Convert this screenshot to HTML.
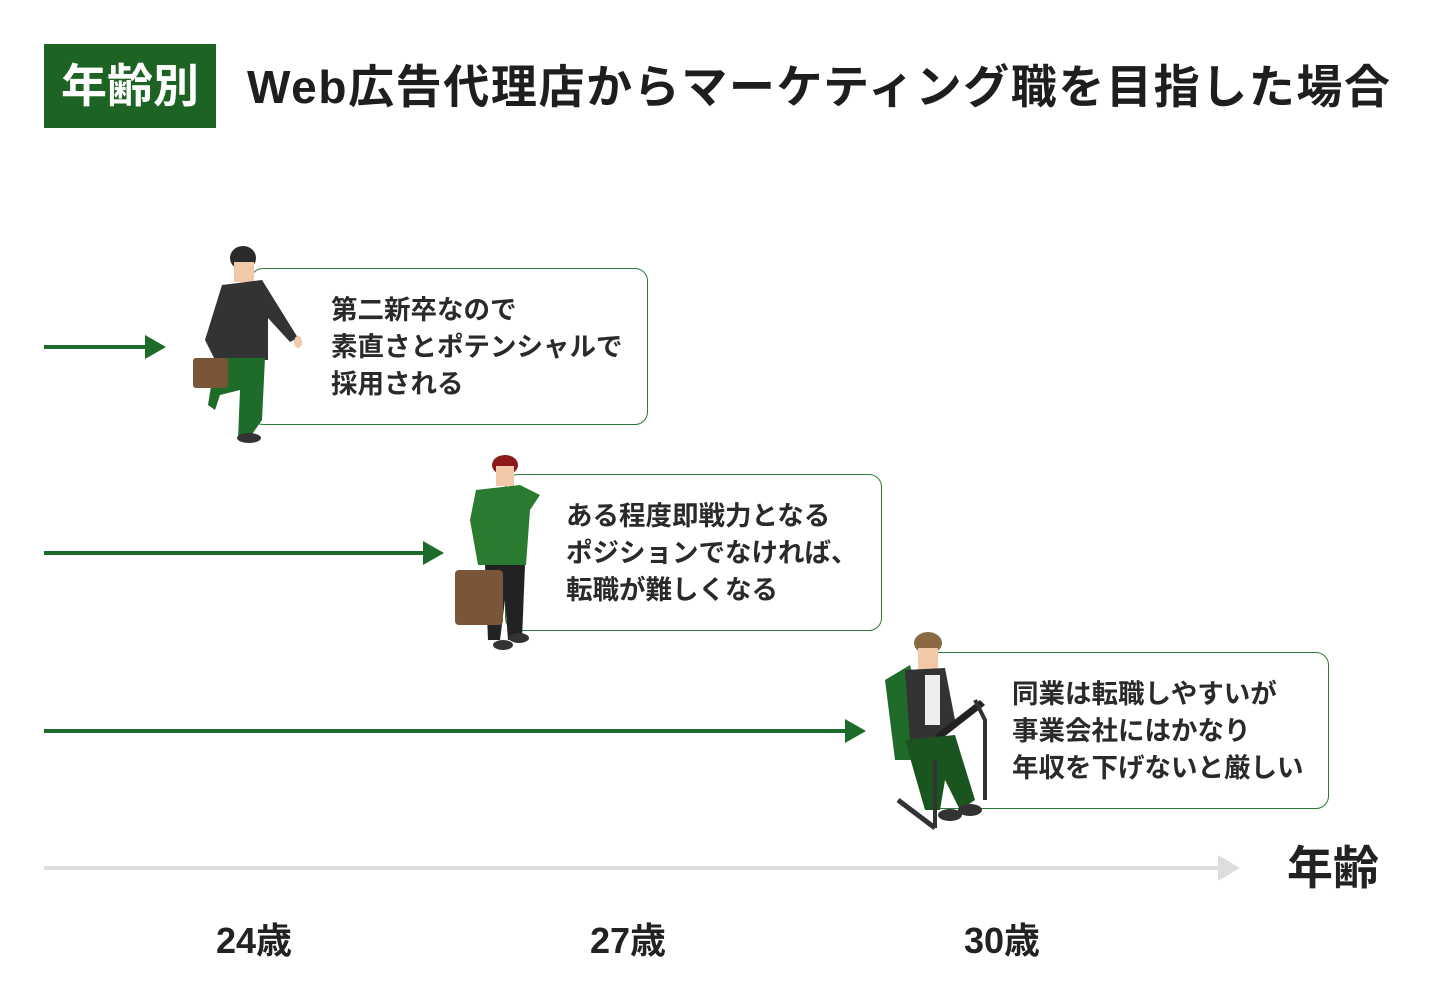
<!DOCTYPE html>
<html><head><meta charset="utf-8"><style>
body{margin:0;width:1440px;height:1008px;background:#fff;position:relative;overflow:hidden;font-family:"Liberation Sans","Noto Sans CJK JP",sans-serif;color:#222;font-weight:bold}
.a{position:absolute}
.box{position:absolute;border:1.5px solid #2c7a36;border-radius:13px;background:#fff}
.txt{position:absolute;font-size:26.5px;line-height:37px;white-space:nowrap;color:#2a2a2a}
.lbl{position:absolute;font-size:36px;white-space:nowrap;transform:translateX(-50%)}
</style></head><body>
<div class="a" style="left:44px;top:44px;width:172px;height:84px;background:#1d6324;color:#fff;font-size:46px;line-height:84px;text-align:center">年齢別</div>
<div class="a" style="left:247px;top:56px;font-size:46px;line-height:62px;white-space:nowrap;letter-spacing:1.6px;color:#1e1e1e">Web広告代理店からマーケティング職を目指した場合</div>

<div class="box" style="left:250px;top:268px;width:396px;height:155px"></div>
<div class="txt" style="left:331px;top:292px">第二新卒なので<br>素直さとポテンシャルで<br>採用される</div>
<div class="box" style="left:505px;top:474px;width:375px;height:155px"></div>
<div class="txt" style="left:566px;top:498px">ある程度即戦力となる<br>ポジションでなければ、<br>転職が難しくなる</div>
<div class="box" style="left:925px;top:652px;width:402px;height:155px"></div>
<div class="txt" style="left:1012px;top:676px">同業は転職しやすいが<br>事業会社にはかなり<br>年収を下げないと厳しい</div>

<svg class="a" style="left:0;top:0" width="1440" height="1008">
<g fill="#1d6b2a" stroke="#1d6b2a">
<line x1="44" y1="347" x2="148" y2="347" stroke-width="4"/><polygon points="145,335 166,347 145,359" stroke="none"/>
<line x1="44" y1="553" x2="426" y2="553" stroke-width="4"/><polygon points="423,541 444,553 423,565" stroke="none"/>
<line x1="44" y1="731" x2="848" y2="731" stroke-width="4"/><polygon points="845,719 866,731 845,743" stroke="none"/>
</g>
<line x1="44" y1="868" x2="1220" y2="868" stroke="#ddd" stroke-width="4"/><polygon points="1218,855 1240,868 1218,881" fill="#ddd"/>
<g>
<ellipse cx="243" cy="258" rx="13" ry="12" fill="#2b2b2b"/>
<rect x="234" y="262" width="20" height="20" fill="#f2c9a8"/>
<path d="M222 285 L262 280 L298 338 L290 342 L268 318 L268 360 L215 360 L205 340 Z" fill="#333"/>
<path d="M225 358 L265 358 L262 420 L248 440 L238 440 L240 390 L220 395 L215 410 L208 405 L212 380 Z" fill="#1e6b2a"/>
<rect x="193" y="358" width="35" height="30" rx="3" fill="#7a5538"/>
<ellipse cx="249" cy="438" rx="12" ry="5" fill="#333"/>
<ellipse cx="298" cy="342" rx="4" ry="6" fill="#f2c9a8"/>
</g>
<g>
<ellipse cx="505" cy="465" rx="13" ry="10" fill="#8b1a1a"/>
<rect x="496" y="466" width="18" height="20" fill="#f2c9a8"/>
<path d="M476 490 L520 485 L540 495 L530 510 L526 565 L478 565 L470 520 Z" fill="#2a7a2f"/>
<path d="M485 565 L525 565 L522 640 L508 640 L505 600 L500 640 L488 640 Z" fill="#222"/>
<rect x="455" y="570" width="48" height="55" rx="4" fill="#7a5538"/>
<ellipse cx="503" cy="645" rx="10" ry="5" fill="#333"/><ellipse cx="519" cy="638" rx="10" ry="5" fill="#333"/>
</g>
<g>
<path d="M885 680 L910 665 L935 760 L895 760 Z" fill="#1e6b2a"/>
<ellipse cx="928" cy="643" rx="14" ry="11" fill="#8a6a45"/>
<rect x="918" y="648" width="20" height="22" fill="#f2c9a8"/>
<path d="M905 670 L945 668 L955 720 L940 740 L910 740 Z" fill="#333"/>
<rect x="925" y="675" width="15" height="50" fill="#eee"/>
<polygon points="935,735 980,700 985,705 940,740" fill="#222"/>
<path d="M905 740 L955 735 L975 800 L960 810 L945 780 L940 810 L925 810 Z" fill="#1a5520"/>
<path d="M898 800 L935 828" stroke="#333" stroke-width="5"/>
<path d="M935 828 L935 760 M975 700 L985 720 L985 800" stroke="#333" stroke-width="4" fill="none"/>
<ellipse cx="950" cy="815" rx="12" ry="6" fill="#333"/><ellipse cx="970" cy="810" rx="12" ry="6" fill="#333"/>
</g>
</svg>

<div class="a" style="left:1287px;top:838px;font-size:46px;line-height:60px;white-space:nowrap">年齢</div>
<div class="lbl" style="left:254px;top:912px">24歳</div>
<div class="lbl" style="left:628px;top:912px">27歳</div>
<div class="lbl" style="left:1002px;top:912px">30歳</div>
</body></html>
